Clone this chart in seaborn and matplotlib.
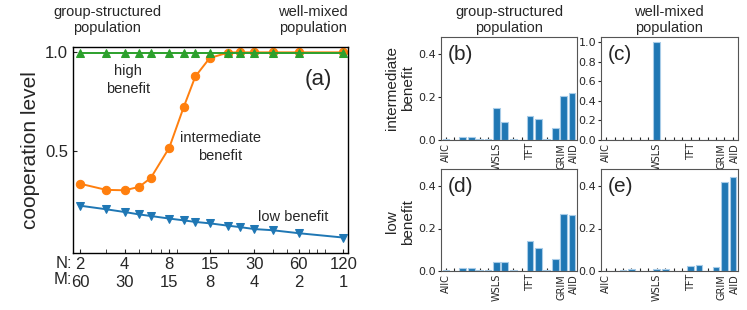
import pandas as pd
import seaborn as sns
import matplotlib.pyplot as plt
import matplotlib.transforms as mtransforms
from matplotlib.ticker import FixedLocator, NullFormatter

sns.set_style("white")
plt.rcParams['font.family'] = ['Liberation Sans', 'DejaVu Sans']

# group sizes N (M = 120 / N groups)
N = [2, 3, 4, 5, 6, 8, 10, 12, 15, 20, 24, 30, 40, 60, 120]
coop_high = [0.995] * 15
coop_mid = [0.333, 0.302, 0.300, 0.317, 0.362, 0.515, 0.719, 0.875, 0.968, 0.996,
            0.997, 0.997, 0.997, 0.997, 0.997]
coop_low = [0.222, 0.204, 0.190, 0.178, 0.170, 0.157, 0.148, 0.140, 0.133, 0.121,
            0.114, 0.104, 0.098, 0.083, 0.061]
N_ticks = [2, 4, 8, 15, 30, 60, 120]
M_ticks = [60, 30, 15, 8, 4, 2, 1]

# strategy frequencies (16 memory-one strategies)
strat_idx = list(range(16))
strat_labels = {0: 'AllC', 6: 'WSLS', 10: 'TFT', 14: 'GRIM', 15: 'AllD'}
freq_b = [0.003, 0.0, 0.015, 0.016, 0.005, 0.005, 0.150, 0.082, 0.005, 0.0,
          0.113, 0.097, 0.005, 0.058, 0.205, 0.217]
freq_c = [0.0, 0.0, 0.0, 0.0, 0.0, 0.0, 1.0, 0.0, 0.0, 0.0,
          0.0, 0.0, 0.0, 0.0, 0.0, 0.0]
freq_d = [0.004, 0.0, 0.014, 0.014, 0.005, 0.005, 0.042, 0.043, 0.005, 0.0,
          0.140, 0.110, 0.005, 0.057, 0.267, 0.265]
freq_e = [0.0, 0.0, 0.004, 0.008, 0.0, 0.002, 0.008, 0.011, 0.002, 0.0,
          0.025, 0.028, 0.0, 0.018, 0.420, 0.444]

W, H = 747, 310
fig = plt.figure(figsize=(W / 100, H / 100), dpi=100)


def box(x0, y0, x1, y1):
    return [x0 / W, 1 - y1 / H, (x1 - x0) / W, (y1 - y0) / H]


# ---- panel (a)
ax = fig.add_axes(box(73, 47, 348, 253))
df = pd.DataFrame({'N': N * 3,
                   'coop': coop_low + coop_mid + coop_high,
                   'b': ['low'] * 15 + ['mid'] * 15 + ['high'] * 15})
styles = {'low': ('#1f77b4', 'v'), 'mid': ('#ff7f0e', 'o'), 'high': ('#2ca02c', '^')}
for key, (col, mk) in styles.items():
    sns.lineplot(data=df[df.b == key], x='N', y='coop', color=col, marker=mk,
                 markersize=6, markeredgecolor=col, linewidth=1.4, ax=ax)
ax.set_xscale('log')
ax.set_xlim(1.79, 129)
ax.set_ylim(-0.017, 1.024)
ax.xaxis.set_major_locator(FixedLocator(N_ticks))
ax.set_xticklabels([f'{n}\n{m}' for n, m in zip(N_ticks, M_ticks)], fontsize=12,
                   linespacing=1.2)
ax.xaxis.set_minor_formatter(NullFormatter())
ax.set_yticks([0.5, 1.0])
ax.set_yticklabels(['0.5', '1.0'], fontsize=12)
ax.tick_params(direction='in', length=3, which='both', bottom=True, left=True)
ax.tick_params(axis='x', pad=3)
ax.set_xlabel('')
ax.set_ylabel('cooperation level', fontsize=15, labelpad=4)
for s in ax.spines.values():
    s.set_color('black')
    s.set_linewidth(1.0)
fig.text(72 / W, 1 - 263 / H, 'N:', fontsize=12, ha='right', va='center')
fig.text(72 / W, 1 - 280 / H, 'M:', fontsize=12, ha='right', va='center')
ax.text(0.94, 0.84, '(a)', transform=ax.transAxes, fontsize=16, ha='right', va='center')
ax.text(0.2, 0.84, 'high\nbenefit', transform=ax.transAxes,
        fontsize=10.5, ha='center', va='center', linespacing=1.3)
ax.text(0.535, 0.515, 'intermediate\nbenefit', transform=ax.transAxes,
        fontsize=10.5, ha='center', va='center', linespacing=1.3)
ax.text(0.80, 0.175, 'low benefit', transform=ax.transAxes,
        fontsize=10.5, ha='center', va='center')
fig.text(107 / W, 1 - 20 / H, 'group-structured\npopulation', fontsize=10.5,
         ha='center', va='center', linespacing=1.2)
fig.text(313 / W, 1 - 20 / H, 'well-mixed\npopulation', fontsize=10.5,
         ha='center', va='center', linespacing=1.2)

# ---- panels (b)-(e)
panels = [(freq_b, '(b)', box(441, 37, 577, 140), 0.48, [0, 0.2, 0.4]),
          (freq_c, '(c)', box(601, 37, 738, 140), 1.05, [0, 0.2, 0.4, 0.6, 0.8, 1.0]),
          (freq_d, '(d)', box(441, 169, 577, 271), 0.48, [0, 0.2, 0.4]),
          (freq_e, '(e)', box(601, 169, 738, 271), 0.48, [0, 0.2, 0.4])]
for freq, tag, rect, ytop, yt in panels:
    bx = fig.add_axes(rect)
    sns.barplot(x=strat_idx, y=freq, color='#1f77b4', saturation=1, width=0.8,
                edgecolor='#a8cce8', linewidth=0.8, ax=bx)
    bx.set_xlim(-0.6, 15.6)
    bx.set_ylim(0, ytop)
    bx.set_xticks(strat_idx)
    # GRIM and AllD sit side by side, so they are drawn by hand a bit apart
    bx.set_xticklabels([strat_labels.get(i, '') if i < 14 else '' for i in strat_idx],
                       rotation=90, fontsize=7, family='DejaVu Sans')
    trans = mtransforms.blended_transform_factory(bx.transData, bx.transAxes)
    for i, dx in [(14, -0.3), (15, 0.2)]:
        bx.text(i + dx, -0.035, strat_labels[i], transform=trans, rotation=90,
                ha='center', va='top', fontsize=7, family='DejaVu Sans')
    bx.set_yticks(yt)
    bx.set_yticklabels([f'{v:.1f}' for v in yt], fontsize=8, family='DejaVu Sans')
    bx.tick_params(axis='x', direction='in', length=2, bottom=True, pad=2)
    bx.tick_params(axis='y', direction='out', length=2, left=True, pad=1.5)
    for s in bx.spines.values():
        s.set_color('#555555')
        s.set_linewidth(0.8)
    bx.text(0.05, 0.83, tag, transform=bx.transAxes, fontsize=15, va='center')

fig.text(400 / W, 1 - 88 / H, 'intermediate\nbenefit', rotation=90, fontsize=11,
         ha='center', va='center', linespacing=1.2)
fig.text(400 / W, 1 - 222 / H, 'low\nbenefit', rotation=90, fontsize=11,
         ha='center', va='center', linespacing=1.2)
fig.text(509 / W, 1 - 20 / H, 'group-structured\npopulation', fontsize=10.5,
         ha='center', va='center', linespacing=1.2)
fig.text(669 / W, 1 - 20 / H, 'well-mixed\npopulation', fontsize=10.5,
         ha='center', va='center', linespacing=1.2)

fig.savefig('out.png', dpi=100)
